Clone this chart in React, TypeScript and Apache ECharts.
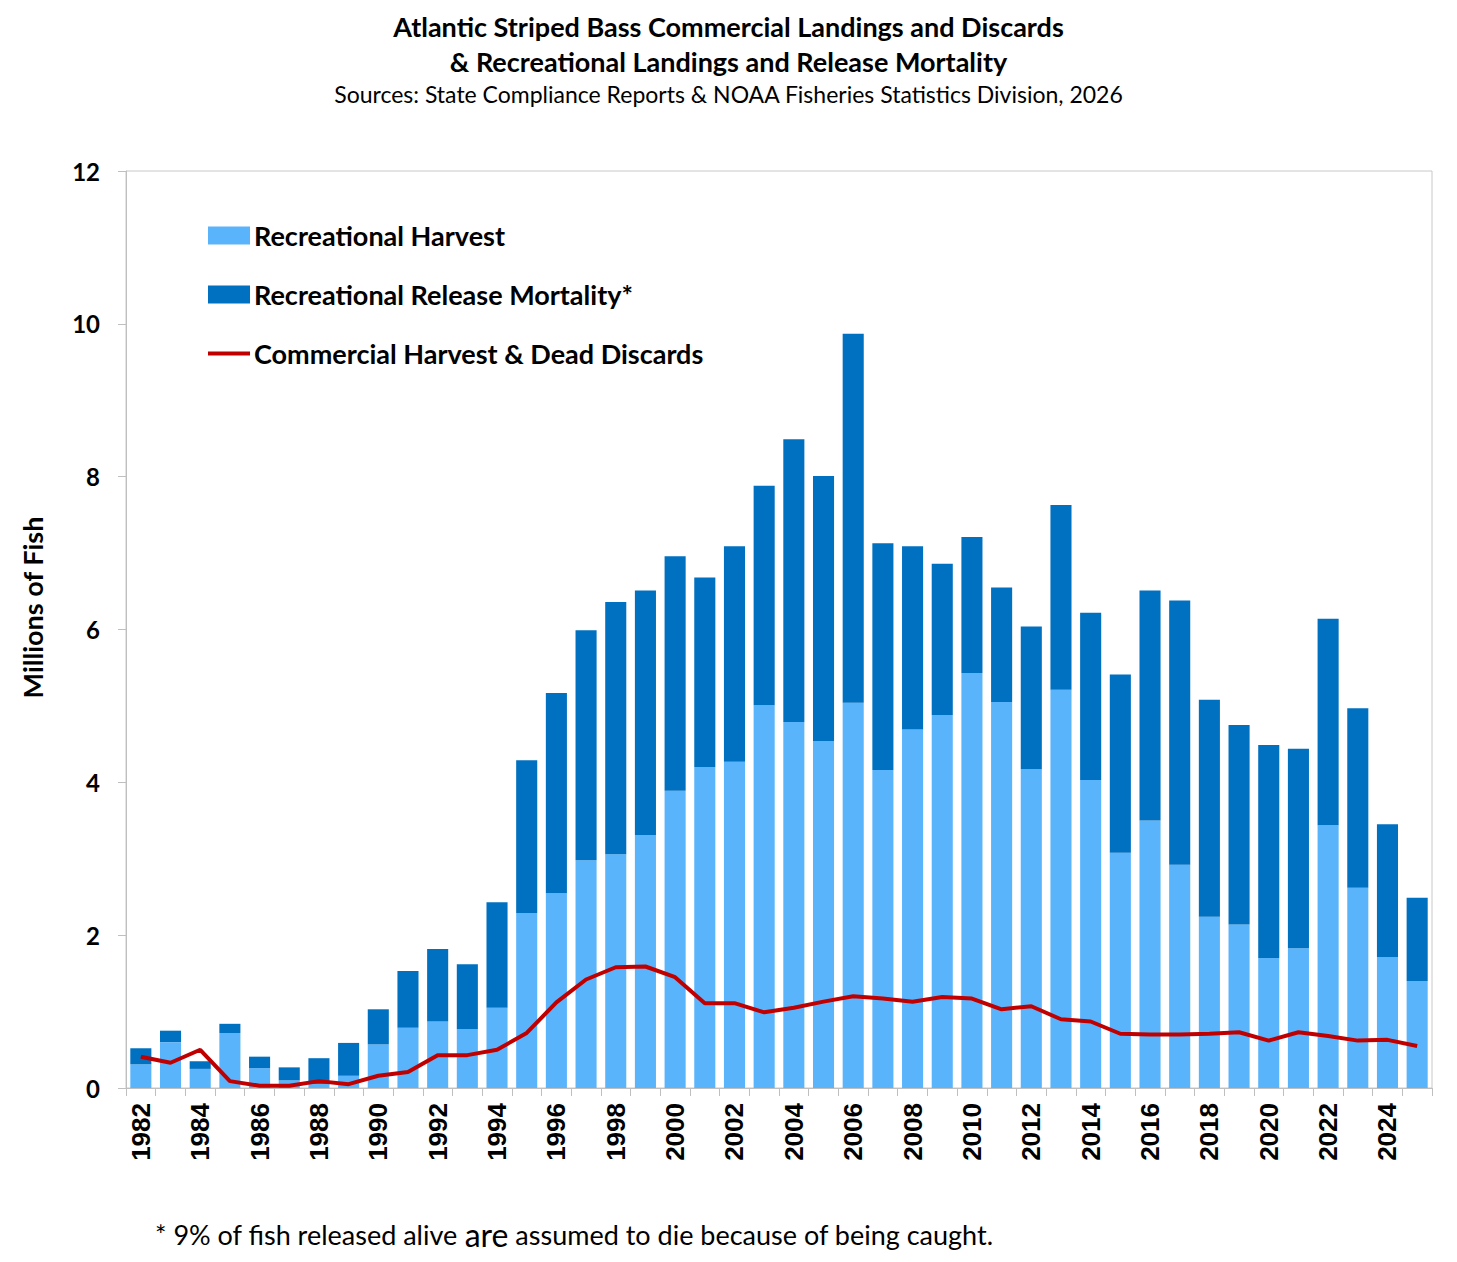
import React, { useEffect, useRef } from "react";
import * as echarts from "echarts";

const years = [
  "1982", "1983", "1984", "1985", "1986", "1987", "1988", "1989", "1990", "1991",
  "1992", "1993", "1994", "1995", "1996", "1997", "1998", "1999", "2000", "2001",
  "2002", "2003", "2004", "2005", "2006", "2007", "2008", "2009", "2010", "2011",
  "2012", "2013", "2014", "2015", "2016", "2017", "2018", "2019", "2020", "2021",
  "2022", "2023", "2024", "2025",
];

const recreationalHarvest = [
  0.31, 0.6, 0.25, 0.72, 0.26, 0.1, 0.05, 0.16, 0.57, 0.79,
  0.87, 0.77, 1.05, 2.29, 2.55, 2.98, 3.06, 3.31, 3.89, 4.2,
  4.27, 5.01, 4.79, 4.54, 5.04, 4.16, 4.69, 4.88, 5.43, 5.05,
  4.17, 5.21, 4.03, 3.08, 3.5, 2.92, 2.24, 2.14, 1.7, 1.83,
  3.44, 2.62, 1.71, 1.4,
];

const releaseMortality = [
  0.21, 0.15, 0.1, 0.12, 0.15, 0.17, 0.34, 0.43, 0.46, 0.74,
  0.95, 0.85, 1.38, 2.0, 2.62, 3.01, 3.3, 3.2, 3.07, 2.48,
  2.82, 2.87, 3.7, 3.47, 4.83, 2.97, 2.4, 1.98, 1.78, 1.5,
  1.87, 2.42, 2.19, 2.33, 3.01, 3.46, 2.84, 2.61, 2.79, 2.61,
  2.7, 2.35, 1.74, 1.09,
];

const commercialHarvest = [
  0.41, 0.33, 0.5, 0.09, 0.03, 0.03, 0.09, 0.05, 0.16, 0.21,
  0.43, 0.43, 0.5, 0.72, 1.12, 1.42, 1.58, 1.59, 1.45, 1.11,
  1.11, 0.99, 1.05, 1.13, 1.2, 1.17, 1.13, 1.19, 1.17, 1.03,
  1.07, 0.9, 0.87, 0.71, 0.7, 0.7, 0.71, 0.73, 0.62, 0.73,
  0.68, 0.62, 0.63, 0.55,
];

const yTicks = { min: 0, max: 12, interval: 2 };

const FONT = "Lato, 'Open Sans', sans-serif";
const NUM_FONT = "'Liberation Sans', Arial, sans-serif";

export default function App() {
  const ref = useRef<HTMLDivElement>(null);

  useEffect(() => {
    document.body.style.margin = "0";
    if (!ref.current) return;
    const chart = echarts.init(ref.current, undefined, { renderer: "svg" });
    chart.setOption({
      animation: false,
      backgroundColor: "#ffffff",
      title: {
        left: "center",
        top: 9,
        padding: 0,
        text: "Atlantic Striped Bass Commercial Landings and Discards\n& Recreational Landings and Release Mortality",
        subtext: "Sources: State Compliance Reports & NOAA Fisheries Statistics Division, 2026",
        itemGap: 2,
        textStyle: {
          fontFamily: FONT,
          fontSize: 27,
          fontWeight: "bold",
          color: "#000000",
          lineHeight: 35,
        },
        subtextStyle: {
          fontFamily: FONT,
          fontSize: 23,
          color: "#000000",
          lineHeight: 26,
        },
      },
      legend: {
        orient: "vertical",
        left: 206,
        top: 222,
        padding: 0,
        itemWidth: 42,
        itemHeight: 18,
        itemGap: 32,
        textStyle: {
          fontFamily: FONT,
          fontSize: 27,
          fontWeight: "bold",
          color: "#000000",
          lineHeight: 24,
          padding: [0, 0, 0, -1],
        },
        data: [
          { name: "Recreational Harvest", icon: "rect" },
          { name: "Recreational Release Mortality*", icon: "rect" },
          {
            name: "Commercial Harvest & Dead Discards",
            itemStyle: { opacity: 0, color: "transparent", borderWidth: 0 },
            lineStyle: { width: 4, color: "#C00000" },
          },
        ],
      },
      grid: {
        left: 126,
        right: 25,
        top: 171,
        bottom: 174,
        show: true,
        borderColor: "#c8c8c8",
        borderWidth: 1,
        containLabel: false,
      },
      xAxis: {
        type: "category",
        data: years,
        boundaryGap: true,
        axisLine: { show: true, lineStyle: { color: "#bfbfbf", width: 1 } },
        axisTick: {
          show: true,
          interval: 0,
          length: 8,
          lineStyle: { color: "#bfbfbf" },
        },
        axisLabel: {
          interval: 1,
          rotate: 90,
          margin: 15,
          fontFamily: NUM_FONT,
          fontSize: 26,
          fontWeight: "bold",
          color: "#000000",
        },
        splitLine: { show: false },
      },
      yAxis: {
        type: "value",
        min: yTicks.min,
        max: yTicks.max,
        interval: yTicks.interval,
        name: "Millions of Fish",
        nameLocation: "middle",
        nameGap: 80,
        nameTextStyle: {
          fontFamily: FONT,
          fontSize: 27,
          fontWeight: "bold",
          color: "#000000",
          padding: [0, 0, 0, 44],
        },
        axisLine: { show: true, lineStyle: { color: "#bfbfbf", width: 1 } },
        axisTick: { show: true, length: 8, lineStyle: { color: "#bfbfbf" } },
        axisLabel: {
          margin: 26,
          fontFamily: FONT,
          fontSize: 24,
          fontWeight: "bold",
          color: "#000000",
        },
        splitLine: { show: false },
      },
      series: [
        {
          name: "Recreational Harvest",
          type: "bar",
          stack: "rec",
          data: recreationalHarvest,
          barCategoryGap: "29%",
          itemStyle: { color: "#5AB4FC" },
        },
        {
          name: "Recreational Release Mortality*",
          type: "bar",
          stack: "rec",
          data: releaseMortality,
          barCategoryGap: "29%",
          itemStyle: { color: "#0070C0" },
        },
        {
          name: "Commercial Harvest & Dead Discards",
          type: "line",
          data: commercialHarvest,
          symbol: "none",
          showSymbol: false,
          z: 5,
          lineStyle: { color: "#C00000", width: 4 },
          itemStyle: { color: "#C00000" },
        },
      ],
      graphic: [
        {
          type: "text",
          left: 155,
          top: 1218,
          style: {
            text: "* 9% of fish released alive {a|are} assumed to die because of being caught.",
            fontFamily: FONT,
            fontSize: 27,
            fill: "#000000",
            rich: {
              a: { fontFamily: FONT, fontSize: 32, fill: "#000000" },
            },
          },
        },
      ],
    });
    return () => chart.dispose();
  }, []);

  return <div ref={ref} style={{ width: 1457, height: 1262 }} />;
}
